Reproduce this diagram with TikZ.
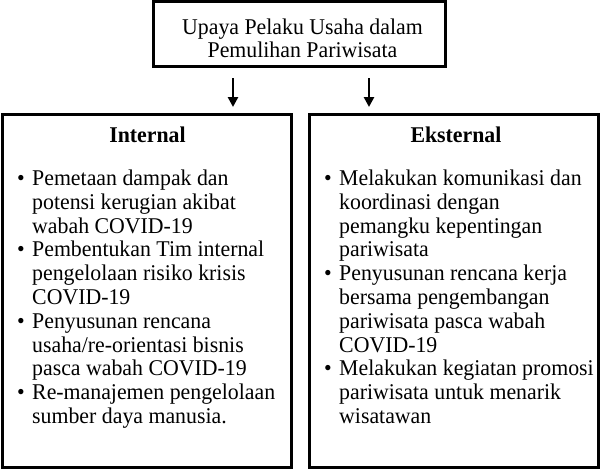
\documentclass[tikz,border=0pt]{standalone}
\usepackage{fontspec}
\setmainfont{Liberation Serif}[FakeStretch=0.97]
\usetikzlibrary{arrows.meta, positioning, calc}

\tikzset{
  kotak/.style={draw, line width=3pt, inner sep=0pt},
  teks/.style={inner sep=0pt, font=\fontsize{22.5}{23.8}\selectfont},
  judul/.style={teks, font=\fontsize{22.5}{23.8}\selectfont\bfseries},
  panah/.style={-{Triangle[length=10pt, width=10pt]}, line width=2.5pt, shorten <=10pt, shorten >=6pt}
}
\newcommand{\bul}{\makebox[15pt][l]{\textbullet}}

\begin{document}
\begin{tikzpicture}[x=1pt, y=-1pt]
        \useasboundingbox (0,0) rectangle (602,472);
        % kotak
        \node [kotak, minimum width=292pt, minimum height=65pt] (upaya) at (299.5,34) {};
        \node [kotak, minimum width=289.5pt, minimum height=353pt] (internal) at (146.75,291) {};
        \node [kotak, minimum width=288.5pt, minimum height=353pt] (eksternal) at (453.75,291) {};

        % judul
        \node [teks, anchor=base] (upayaT) at (302.5,34) {\begin{tabular}[t]{@{}c@{}}Upaya Pelaku Usaha dalam\\ Pemulihan Pariwisata\end{tabular}};
        \node [judul, anchor=base] (internalT) at (147.5,142) {Internal};
        \node [judul, anchor=base] (eksternalT) at (456,142) {Eksternal};

        % isi
        \node [teks, anchor=base west] (internalL) at (17,185.5) {\begin{tabular}[t]{@{}l@{}l@{}}
            \bul & Pemetaan dampak dan\\
                 & potensi kerugian akibat\\
                 & wabah COVID-19\\
            \bul & Pembentukan Tim internal\\
                 & pengelolaan risiko krisis\\
                 & COVID-19\\
            \bul & Penyusunan rencana\\
                 & usaha/re-orientasi bisnis\\
                 & pasca wabah COVID-19\\
            \bul & Re-manajemen pengelolaan\\
                 & sumber daya manusia.
        \end{tabular}};
        \node [teks, anchor=base west] (eksternalL) at (324,185.5) {\begin{tabular}[t]{@{}l@{}l@{}}
            \bul & Melakukan komunikasi dan\\
                 & koordinasi dengan\\
                 & pemangku kepentingan\\
                 & pariwisata\\
            \bul & Penyusunan rencana kerja\\
                 & bersama pengembangan\\
                 & pariwisata pasca wabah\\
                 & COVID-19\\
            \bul & Melakukan kegiatan promosi\\
                 & pariwisata untuk menarik\\
                 & wisatawan
        \end{tabular}};

        % panah
        \draw [panah] ([xshift=-66.5pt]upaya.south) -- ([xshift=-66.5pt]upaya.south |- internal.north);
        \draw [panah] ([xshift=69.5pt]upaya.south) -- ([xshift=69.5pt]upaya.south |- eksternal.north);
\end{tikzpicture}
\end{document}
